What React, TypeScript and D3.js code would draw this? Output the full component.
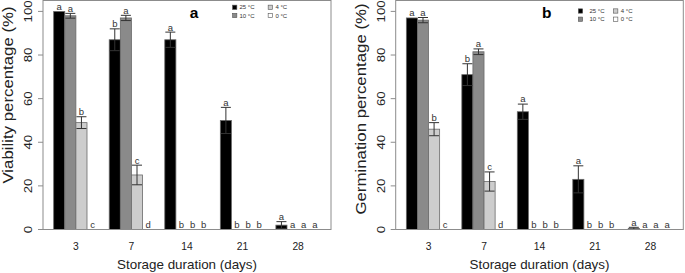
import React from "react";
import * as d3 from "d3";

// ---------- data ----------
const categories = ["3", "7", "14", "21", "28"];
const temps = ["25 °C", "10 °C", "4 °C", "0 °C"];
const yTicks = [0, 20, 40, 60, 80, 100];

const viab25 = [100, 87, 87, 50, 2];
const viab10 = [98, 97, 0, 0, 0];
const viab4 = [49, 25, 0, 0, 0];
const viab0 = [0, 0, 0, 0, 0];
const viabErr25 = [0, 5, 3.5, 6, 1.6];
const viabErr10 = [1.1, 1.2, 0, 0, 0];
const viabErr4 = [2.7, 4.5, 0, 0, 0];
const viabErr0 = [0, 0, 0, 0, 0];
const viabLet25 = ["a", "b", "a", "a", "a"];
const viabLet10 = ["a", "a", "b", "b", "a"];
const viabLet4 = ["b", "c", "b", "b", "a"];
const viabLet0 = ["c", "d", "b", "b", "a"];

const germ25 = [97, 71, 54, 23, 0.5];
const germ10 = [96, 81.5, 0, 0, 0];
const germ4 = [46, 22, 0, 0, 0];
const germ0 = [0, 0, 0, 0, 0];
const germErr25 = [0, 5, 3.5, 6.2, 0.5];
const germErr10 = [1.2, 1.3, 0, 0, 0];
const germErr4 = [3, 4.4, 0, 0, 0];
const germErr0 = [0, 0, 0, 0, 0];
const germLet25 = ["a", "b", "a", "a", "a"];
const germLet10 = ["a", "a", "b", "b", "a"];
const germLet4 = ["b", "c", "b", "b", "a"];
const germLet0 = ["c", "d", "b", "b", "a"];

// ---------- styles ----------
const fills = ["#000000", "#8a8a8a", "#cdcdcd", "#ffffff"];
const FONT = "'Liberation Sans', Arial, Helvetica, sans-serif";
const TOP = 0.5;
const BOTTOM = 229.5;

type PanelProps = {
  left: number;
  right: number;
  values: number[][];
  errs: number[][];
  letters: string[][];
  yTitle: string;
  yTitleCenter: number;
  label: string;
  legendX: number;
  legendGap: number;
  legendX2: number;
  legendY: number;
};

function Panel(p: PanelProps) {
  const y = d3.scaleLinear().domain([0, 105]).range([BOTTOM, TOP]);
  const x = d3.scaleLinear().domain([0.04, 25.96]).range([p.left, p.right]);
  const bars: JSX.Element[] = [];
  const errEls: JSX.Element[] = [];
  const letEls: JSX.Element[] = [];
  categories.forEach((_, g) => {
    p.values.forEach((series, i) => {
      const v = series[g];
      const e = p.errs[i][g];
      const x0 = 1 + g * 5 + i;
      const xl = x(x0);
      const xr = x(x0 + 1);
      const xc = (xl + xr) / 2;
      if (v > 0) {
        bars.push(
          <rect
            key={`b${g}-${i}`}
            x={xl}
            y={y(v)}
            width={xr - xl}
            height={y(0) - y(v)}
            fill={fills[i]}
            stroke="#6a6a6a"
            strokeWidth={0.8}
          />
        );
      }
      if (e > 0) {
        const yt = y(v + e);
        const yb = y(Math.max(0, v - e));
        errEls.push(
          <g key={`e${g}-${i}`} stroke="#333" strokeWidth={1} fill="none">
            <line x1={xc} x2={xc} y1={yt} y2={yb} />
            <line x1={xc - 5} x2={xc + 5} y1={yt} y2={yt} />
            <line x1={xc - 5} x2={xc + 5} y1={yb} y2={yb} />
          </g>
        );
      }
      letEls.push(
        <text
          key={`l${g}-${i}`}
          x={xc}
          y={y(v + e) - 1.6}
          textAnchor="middle"
          fontSize={9.5}
          fill="#333"
          fontFamily={FONT}
        >
          {p.letters[i][g]}
        </text>
      );
    });
  });

  const legendRows = [
    [0, 2],
    [1, 3],
  ];
  const sq = 4.3;

  return (
    <g>
      {bars}
      {errEls}
      {letEls}
      <rect
        x={p.left}
        y={TOP}
        width={p.right - p.left}
        height={BOTTOM - TOP}
        fill="none"
        stroke="#8c8c8c"
        strokeWidth={1}
      />
      {yTicks.map((t) => (
        <g key={`t${t}`}>
          <line x1={p.left - 5} x2={p.left} y1={y(t)} y2={y(t)} stroke="#8c8c8c" strokeWidth={1} />
          <text
            transform={`translate(${p.left - 11},${y(t)}) rotate(-90) scale(1.2,1)`}
            textAnchor="middle"
            fontSize={11}
            fill="#222"
            fontFamily={FONT}
          >
            {t}
          </text>
        </g>
      ))}
      {categories.map((c, g) => (
        <text
          key={`x${c}`}
          x={x(1 + g * 5 + 2)}
          y={250}
          textAnchor="middle"
          fontSize={10.3}
          fill="#222"
          fontFamily={FONT}
        >
          {c}
        </text>
      ))}
      <text
        x={(p.left + p.right) / 2}
        y={269.3}
        textAnchor="middle"
        fontSize={13.4}
        fill="#222"
        fontFamily={FONT}
      >
        Storage duration (days)
      </text>
      <text
        transform={`translate(${p.left - 30},${p.yTitleCenter}) rotate(-90) scale(1.16,1)`}
        textAnchor="middle"
        fontSize={14.5}
        fill="#222"
        fontFamily={FONT}
      >
        {p.yTitle}
      </text>
      <text
        x={p.left + 151}
        y={17.8}
        textAnchor="middle"
        fontSize={15.5}
        fontWeight="bold"
        fill="#000"
        fontFamily={FONT}
      >
        {p.label}
      </text>
      {legendRows.map((row, r) =>
        row.map((ti, c) => {
          const cx = c === 0 ? p.legendX : p.legendX2;
          const gap = c === 0 ? p.legendGap : 3;
          const cy = p.legendY + r * 8.2;
          return (
            <g key={`lg${ti}`}>
              <rect
                x={cx - sq / 2}
                y={cy - sq / 2}
                width={sq}
                height={sq}
                fill={fills[ti]}
                stroke="#555"
                strokeWidth={0.6}
              />
              <text
                x={cx + sq / 2 + gap}
                y={cy + 2.1}
                fontSize={6}
                fill="#333"
                fontFamily={FONT}
              >
                {temps[ti]}
              </text>
            </g>
          );
        })
      )}
    </g>
  );
}

export default function App() {
  return (
    <svg
      width={685}
      height={273}
      style={{ position: "absolute", left: 0, top: 0, background: "#fff" }}
    >
      <rect x={0} y={0} width={685} height={273} fill="#fff" />
      <Panel
        left={43}
        right={331}
        values={[viab25, viab10, viab4, viab0]}
        errs={[viabErr25, viabErr10, viabErr4, viabErr0]}
        letters={[viabLet25, viabLet10, viabLet4, viabLet0]}
        yTitle="Viability percentage (%)"
        yTitleCenter={95}
        label="a"
        legendX={234.7}
        legendGap={2.6}
        legendX2={270.3}
        legendY={7.3}
      />
      <Panel
        left={395.7}
        right={683.3}
        values={[germ25, germ10, germ4, germ0]}
        errs={[germErr25, germErr10, germErr4, germErr0]}
        letters={[germLet25, germLet10, germLet4, germLet0]}
        yTitle="Germination percentage (%)"
        yTitleCenter={109}
        label="b"
        legendX={580.5}
        legendGap={6.8}
        legendX2={615.7}
        legendY={11}
      />
    </svg>
  );
}
